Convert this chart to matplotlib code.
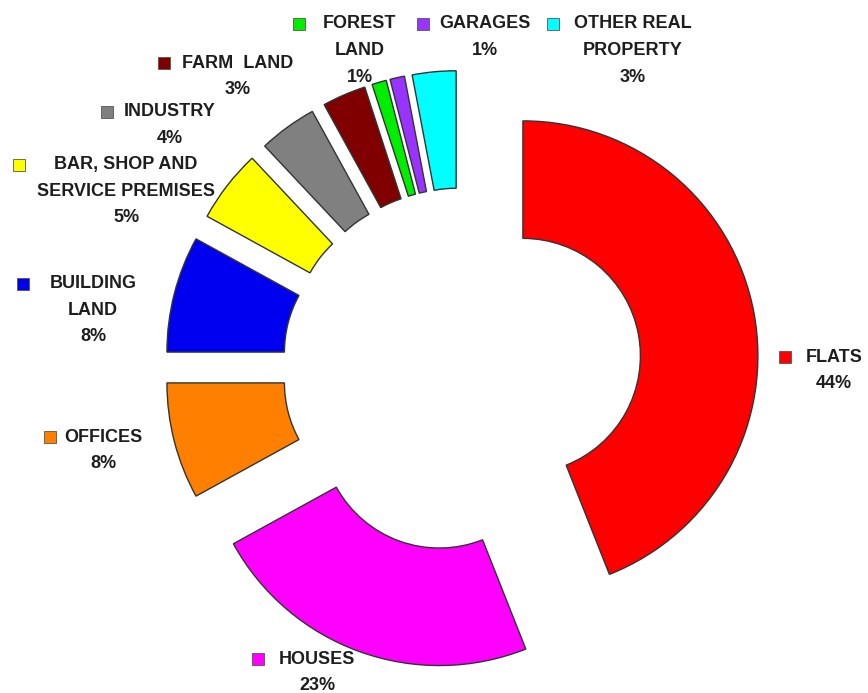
import matplotlib
matplotlib.use("Agg")
import matplotlib.pyplot as plt
from matplotlib.patches import Rectangle

# real estate types and their share in percent
categories = ["FLATS", "HOUSES", "OFFICES", "BUILDING\nLAND",
              "BAR, SHOP AND\nSERVICE PREMISES", "INDUSTRY", "FARM  LAND",
              "FOREST\nLAND", "GARAGES", "OTHER REAL\nPROPERTY"]
shares = [44, 23, 8, 8, 5, 4, 3, 1, 1, 3]
colors = ["#ff0000", "#ff00ff", "#ff8000", "#0000f0", "#ffff00",
          "#808080", "#800000", "#00ee00", "#9933ff", "#00ffff"]

# label placement in pixels: (text centre x, first line y, square centre x)
label_pos = [
    (834, 357, 785), (317, 659, 258), (103, 437, 50), (93, 284, 23),
    (126, 165, 19), (170, 112, 107), (238, 63, 164),
    (360, 24, 299), (485, 24, 423), (633, 24, 553),
]

W, H = 868, 693
CX, CY, R = 462, 367.5, 235  # donut centre and outer radius in pixels

# how far each wedge is pulled out from the centre (pixels)
pull = [62, 67, 62, 62, 62, 62, 62, 62, 62, 62]

fig = plt.figure(figsize=(W / 100, H / 100), dpi=100)
ax = fig.add_axes([0, 0, 1, 1])

ax.pie(shares, colors=colors, startangle=90, counterclock=False,
       explode=[p / R for p in pull], radius=1,
       wedgeprops=dict(width=0.5, edgecolor="#333333", linewidth=1))
ax.set_xlim(-CX / R, (W - CX) / R)
ax.set_ylim(-(H - CY) / R, CY / R)
ax.set_aspect("equal")
ax.axis("off")


def fig_xy(px, py):
    return px / W, 1 - py / H


step = 26.5
sq = 12
for name, val, col, (tx, ty, sx) in zip(categories, shares, colors, label_pos):
    lines = name.split("\n") + [f"{val}%"]
    for i, line in enumerate(lines):
        fig.text(*fig_xy(tx, ty + i * step), line, ha="center", va="center",
                 fontsize=13, fontweight="bold", color="#1e1e1e",
                 family=["Liberation Sans", "DejaVu Sans"])
    x0, y0 = fig_xy(sx - sq / 2, ty + sq / 2)
    fig.patches.append(Rectangle((x0, y0), sq / W, sq / H, transform=fig.transFigure,
                                 facecolor=col, edgecolor="#555555", linewidth=0.6))

fig.savefig("out.png", dpi=100)
